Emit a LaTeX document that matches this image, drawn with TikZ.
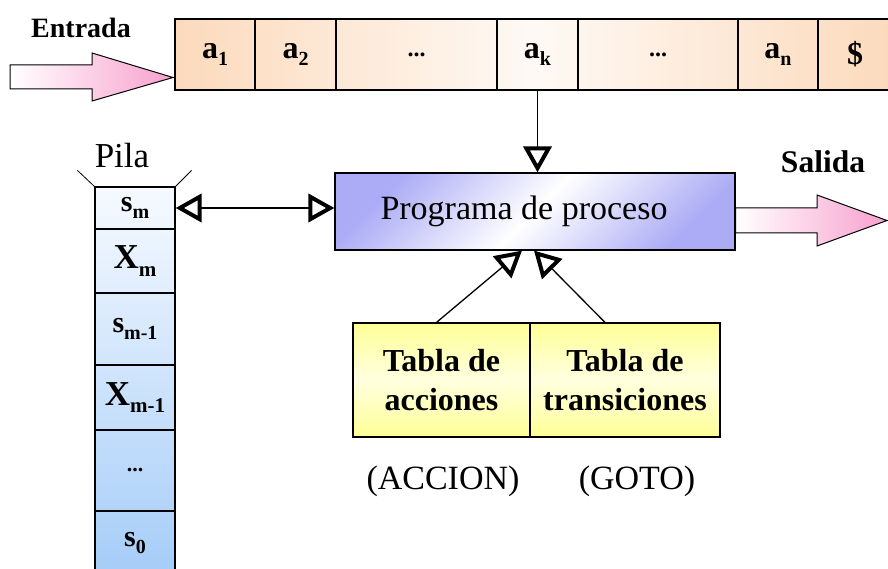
\documentclass[tikz,border=0pt]{standalone}
\usepackage{fontspec}
\setmainfont{Liberation Serif}
\usetikzlibrary{arrows.meta}

\definecolor{peach}{RGB}{252,218,188}
\definecolor{pinkarrow}{RGB}{248,160,206}
\definecolor{lav}{RGB}{172,172,246}
\definecolor{stackblue}{RGB}{164,204,248}
\definecolor{stacktop}{RGB}{246,250,255}
\definecolor{tabyellow}{RGB}{255,255,150}

% lowered index used for the tape and stack symbols
\newcommand{\lowidx}[2][20]{\raisebox{-0.45ex}{\fontsize{#1}{#1}\selectfont #2}}

\tikzset{
  cellbox/.style={draw, line width=1.2pt, minimum height=71pt, inner sep=0pt,
    font=\bfseries\fontsize{32}{34}\selectfont},
  stackcell/.style={draw, line width=1.2pt, minimum width=80pt, inner sep=0pt,
    font=\bfseries\fontsize{30}{32}\selectfont},
  tablebox/.style={draw, line width=1.2pt, minimum height=114pt, inner sep=0pt,
    align=center, top color=tabyellow, bottom color=tabyellow,
    middle color=tabyellow!30, font=\bfseries\fontsize{32}{39}\selectfont},
  label/.style={inner sep=0pt},
  opentip/.tip={Triangle[open, length=26pt, width=28pt, line width=4pt]},
  connector/.style={line width=1.3pt},
  blockarrow/.style={draw, line width=1pt, left color=white, right color=pinkarrow}
}

\begin{document}
\begin{tikzpicture}[x=1pt, y=-1pt]
\useasboundingbox (0,0) rectangle (888,569);

% input tape
\path[left color=peach, right color=peach, middle color=peach!15] (175,19) rectangle (892,90);
\node[cellbox, minimum width=80pt]  (c1) at (215,54.5)   {a\lowidx{1}};
\node[cellbox, minimum width=81pt]  (c2) at (295.5,54.5) {a\lowidx{2}};
\node[cellbox, minimum width=161pt] (c3) at (416.5,54.5) {\fontsize{24}{24}\selectfont ...};
\node[cellbox, minimum width=81pt]  (ck) at (537.5,54.5) {a\lowidx{k}};
\node[cellbox, minimum width=160pt] (c5) at (658,54.5)   {\fontsize{24}{24}\selectfont ...};
\node[cellbox, minimum width=80pt]  (cn) at (778,54.5)   {a\lowidx{n}};
\node[cellbox, minimum width=74pt]  (cd) at (855,54.5)   {\$};

\node[label, font=\bfseries\fontsize{28}{30}\selectfont] (entrada) at (81,28) {Entrada};
\path[blockarrow] (10,65) -- (92,65) -- (92,53) -- (173,77.5) -- (92,101) -- (92,89) -- (10,89) -- cycle;

% stack
\node[label, font=\fontsize{35}{37}\selectfont] (pila) at (122,156) {Pila};
\path[top color=stacktop, bottom color=stackblue] (95,187) rectangle (175,580);
\node[stackcell, minimum height=42pt] (sm)  at (135,208)   {s\lowidx{m}};
\node[stackcell, minimum height=64pt] (xm)  at (135,261)   {\fontsize{35}{37}\selectfont X\lowidx[21]{m}};
\node[stackcell, minimum height=72pt] (sm1) at (135,329)   {s\lowidx{m-1}};
\node[stackcell, minimum height=65pt] (xm1) at (135,397.5) {\fontsize{35}{37}\selectfont X\lowidx[21]{m-1}};
\node[stackcell, minimum height=81pt] (dots) at (135,470.5) {\fontsize{22}{22}\selectfont ...};
\node[stackcell, minimum height=64pt] (s0)  at (135,543)   {s\lowidx{0}};
\draw[line width=0.8pt] (sm.north west) -- ++(-17,-16);
\draw[line width=0.8pt] (sm.north east) -- ++(16,-16);

% driver program
\node[draw, line width=1.2pt, minimum width=400pt, minimum height=77pt,
      top color=lav, bottom color=lav, middle color=white, shading angle=45] (prog) at (535,211.5) {};
\node[label, font=\fontsize{34}{36}\selectfont] (progtext) at (524,211.5) {Programa de proceso};

\node[label, font=\bfseries\fontsize{31.5}{33}\selectfont] (salida) at (823,162) {Salida};
\path[blockarrow] (prog.east |- 0,208) -- (817,208) -- (817,195) -- (887,220.5)
  -- (817,246) -- (817,233) -- (prog.east |- 0,233) -- cycle;

% parsing tables
\node[tablebox, minimum width=177pt] (tabA) at (441.5,380) {Tabla de\\acciones};
\node[tablebox, minimum width=190pt] (tabB) at (625,380)   {Tabla de\\transiciones};
\node[label, font=\fontsize{34}{36}\selectfont] (accion) at (443,481) {(ACCION)};
\node[label, font=\fontsize{34}{36}\selectfont] (goto)   at (637,481) {(GOTO)};

% connectors
\draw[connector, -opentip] (ck.south) -- (ck.south |- prog.north);
\draw[connector, opentip-opentip] (sm.east) -- (prog.west |- sm.east);
\draw[connector, -opentip] ([xshift=-5pt]tabA.north) -- ([xshift=-13pt]prog.south);
\draw[connector, -opentip] ([xshift=-20pt]tabB.north) -- ([xshift=-1pt]prog.south);
\end{tikzpicture}
\end{document}
